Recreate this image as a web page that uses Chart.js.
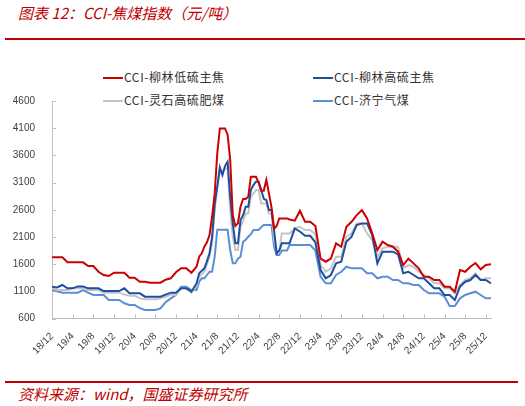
<!DOCTYPE html>
<html>
<head>
<meta charset="utf-8">
<script src="https://cdn.jsdelivr.net/npm/chart.js@4.4.1/dist/chart.umd.min.js"></script>
<style>
  body { margin: 0; width: 525px; height: 406px; background: #fff; position: relative; overflow: hidden;
         font-family: "Noto Sans CJK SC", sans-serif; }
  .title { position: absolute; left: 18px; top: 2px; color: #c00000; font-style: italic; font-size: 15px; white-space: nowrap; }
  .rule { position: absolute; height: 2px; background: #c00000; }
  .src { position: absolute; left: 18px; top: 383px; color: #c00000; font-style: italic; font-size: 15px; white-space: nowrap; }
  .lg { position: absolute; font-size: 12px; color: #333; white-space: nowrap; letter-spacing: 0.6px; }
  .lg span { display: inline-block; width: 20px; height: 2px; vertical-align: middle; margin-right: 1px; position: relative; top: -1px; }
  #wrap { position: absolute; left: 0; top: 80px; width: 525px; height: 300px; }
</style>
</head>
<body>
<div class="title">图表 12：CCI-焦煤指数（元/吨）</div>
<div class="rule" style="left:5px; top:38px; width:520px;"></div>
<div id="legend"></div>
<div id="wrap"><canvas id="c"></canvas></div>
<div class="rule" style="left:5px; top:381px; width:513px;"></div>
<div class="src">资料来源：wind，国盛证券研究所</div>
<script>
// months since 2018/12
var months = [0,1,2,3,4,5,6,7,8,9,10,11,12,13,14,15,16,17,18,19,20,21,22,23,24,25,26,27,28,
  28.5,29,29.5,30,30.5,31,31.5,32,32.5,33,33.5,34,34.5,35,35.5,36,36.5,37,37.5,38,38.5,39,39.5,40,40.5,41,41.5,42,42.5,43,43.5,44,44.5,45,45.5,46,
  47,48,49,50,51,52,53,54,55,56,57,58,59,60,61,62,63,64,65,66,67,68,69,70,71,72,73,74,75,76,77,78,79,80,81,82,83,84,85];

var lowSulfurMain = [1725,1725,1725,1633,1633,1633,1633,1565,1565,1460,1400,1381,1442,1442,1442,1350,1350,1276,1276,1258,1258,1258,1313,1339,1450,1523,1523,1442,1555,
  1736,1800,1920,2000,2135,2471,2900,3636,4096,4096,4096,3980,3525,2500,2300,2350,2655,2800,2800,2839,3206,3206,3206,3100,2950,2950,3150,2900,2650,2250,2300,2440,2440,2440,2440,2420,
  2400,2580,2380,2380,2300,1700,1644,1700,1982,1920,2287,2379,2502,2594,2440,2165,1859,2012,1951,1920,1829,1583,1700,1614,1522,1368,1368,1308,1308,1185,1185,1093,1491,1460,1552,1620,1504,1583,1600];

var highSulfurMain = [1185,1170,1216,1155,1155,1190,1190,1155,1155,1155,1105,1105,1105,1105,1155,1063,1063,1063,1001,1001,1001,1001,1040,1075,1075,1155,1155,1093,1250,
  1431,1480,1523,1650,1798,2103,2700,3022,3379,3237,3403,3482,2839,2350,1982,1982,2410,2500,2655,2655,2962,3054,3115,3115,2962,2800,2778,2594,2594,2226,1798,1850,1982,1982,1982,1982,
  2257,2200,2120,2120,2000,1491,1339,1400,1614,1644,2012,2103,2318,2349,2349,2135,1614,1829,1829,1829,1780,1431,1460,1400,1339,1339,1247,1155,1155,1032,1032,940,1185,1276,1308,1400,1308,1308,1247];

var highSulfurFat = [1155,1124,1124,1124,1155,1155,1155,1124,1124,1124,1075,1075,1075,1075,1040,1019,1019,970,953,953,953,972,1001,1040,1032,1155,1155,1075,1200,
  1368,1420,1460,1600,1736,1982,2594,3022,3298,3298,3360,3360,2594,2103,1859,1859,2287,2400,2533,2533,2839,2900,2962,2962,2717,2717,2717,2533,2533,2043,1829,1829,2165,2165,2165,2165,
  2257,2287,2226,2226,2150,1583,1460,1522,1736,1736,2103,2165,2349,2349,2165,2043,1736,1890,1920,1920,1920,1522,1583,1552,1460,1400,1339,1247,1247,1155,1155,1063,1216,1308,1339,1431,1308,1339,1339];

var gasCoal = [1124,1100,1075,1075,1075,1075,1124,1075,1032,1032,1032,940,940,940,880,848,848,790,756,756,756,784,900,971,1032,1185,1185,1124,1124,
  1276,1339,1339,1400,1460,1460,1736,2230,2230,2230,2230,2230,1859,1614,1614,1700,1736,2012,2050,2103,2150,2227,2227,2227,2280,2318,2318,2318,2318,1920,1767,1767,1850,1850,1850,1951,
  1951,1951,1951,1951,1850,1368,1247,1247,1400,1460,1552,1522,1522,1522,1431,1431,1339,1368,1368,1308,1308,1247,1247,1216,1216,1124,1063,1063,1063,1001,830,830,971,1032,1063,1093,1032,971,971];

var seriesNames = ['CCI-柳林低硫主焦', 'CCI-柳林高硫主焦', 'CCI-灵石高硫肥煤', 'CCI-济宁气煤'];
var seriesColors = ['#cc0000', '#1f4e9e', '#c4c4c4', '#5a8fd6'];
var xLabels = ['18/12','19/4','19/8','19/12','20/4','20/8','20/12','21/4','21/8','21/12','22/4','22/8','22/12',
  '23/4','23/8','23/12','24/4','24/8','24/12','25/4','25/8','25/12'];
var yTicks = [600,1100,1600,2100,2600,3100,3600,4100,4600];

// legend, 2 x 2
var lgPos = [[103,68],[313,68],[103,91],[313,91]];
var lgHtml = '';
for (let i = 0; i < seriesNames.length; i++) {
  lgHtml += '<div class="lg" style="left:' + lgPos[i][0] + 'px; top:' + lgPos[i][1] + 'px;"><span style="background:' +
    seriesColors[i] + '"></span>' + seriesNames[i] + '</div>';
}
document.getElementById('legend').innerHTML = lgHtml;

var toXY = function(vals) {
  return vals.map(function(v, i) { return {x: months[i], y: v}; });
};

var allSeries = [lowSulfurMain, highSulfurMain, highSulfurFat, gasCoal];
var datasets = allSeries.map(function(s, i) {
  return {
    label: seriesNames[i],
    data: toXY(s),
    borderColor: seriesColors[i],
    backgroundColor: seriesColors[i],
    borderWidth: 2,
    pointRadius: 0,
    tension: 0,
    fill: false
  };
});

// tick marks pointing into the plot
var innerTicks = {
  id: 'innerTicks',
  beforeDatasetsDraw: function(chart) {
    const ctx = chart.ctx, x = chart.scales.x, y = chart.scales.y;
    ctx.save();
    ctx.strokeStyle = '#bfbfbf';
    ctx.lineWidth = 1;
    ctx.beginPath();
    y.ticks.forEach(function(t) {
      const py = Math.round(y.getPixelForValue(t.value)) + 0.5;
      ctx.moveTo(x.left, py); ctx.lineTo(x.left + 4, py);
    });
    x.ticks.forEach(function(t) {
      const px = Math.round(x.getPixelForValue(t.value)) + 0.5;
      ctx.moveTo(px, y.bottom); ctx.lineTo(px, y.bottom - 4);
    });
    ctx.stroke();
    ctx.restore();
  }
};

const myChart = new Chart(document.getElementById('c').getContext('2d'), {
  type: 'line',
  data: { datasets: datasets },
  plugins: [innerTicks],
  options: {
    responsive: true,
    maintainAspectRatio: false,
    animation: false,
    layout: { padding: { top: 21, right: 34, left: 0, bottom: 0 } },
    plugins: { legend: { display: false }, tooltip: { enabled: false } },
    scales: {
      x: {
        type: 'linear',
        min: 0,
        max: 85,
        grid: { display: false },
        border: { color: '#bfbfbf', width: 1 },
        afterBuildTicks: function(scale) {
          scale.ticks = xLabels.map(function(l, i) { return {value: i * 4}; });
        },
        afterFit: function(scale) { scale.height = 61.5; },
        ticks: {
          autoSkip: false,
          minRotation: 45,
          maxRotation: 45,
          padding: 4,
          color: '#404040',
          font: { family: 'Liberation Sans', size: 10 },
          callback: function(v) { return xLabels[Math.round(v / 4)]; }
        }
      },
      y: {
        min: 600,
        max: 4600,
        grid: { display: false },
        border: { color: '#bfbfbf', width: 1 },
        afterBuildTicks: function(scale) {
          scale.ticks = yTicks.map(function(v) { return {value: v}; });
        },
        afterFit: function(scale) { scale.width = 52; },
        ticks: {
          padding: 9,
          color: '#404040',
          font: { family: 'Liberation Sans', size: 10 },
          callback: function(v) { return String(v); }
        }
      }
    }
  }
});
</script>
</body>
</html>
